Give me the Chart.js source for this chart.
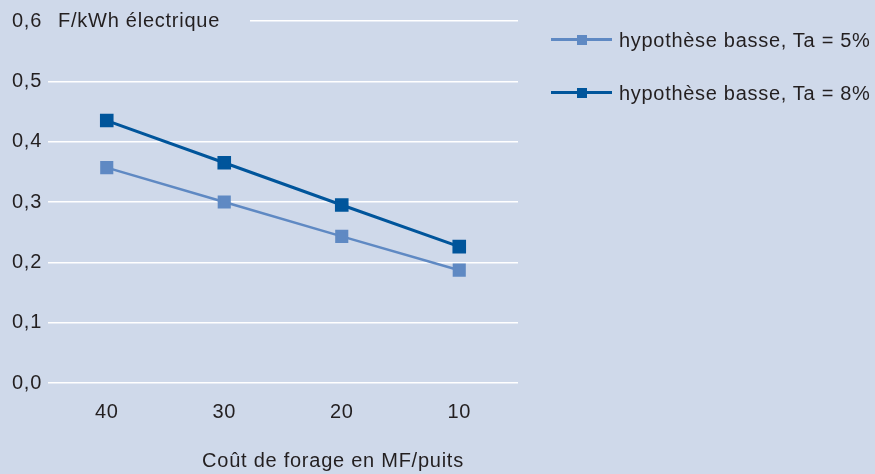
<!DOCTYPE html>
<html lang="fr">
<head>
    <meta charset="UTF-8">
    <title>Coût du kWh électrique</title>
    <script src="https://cdn.jsdelivr.net/npm/chart.js"></script>
    <style>
        html, body { margin: 0; padding: 0; background: #cfd9ea; }
        #wrap { position: relative; width: 875px; height: 474px; }
        #legend { position: absolute; left: 551px; top: 26px; font-family: 'Liberation Sans', Arial, sans-serif; font-size: 20px; letter-spacing: 0.7px; color: #231f20; }
        .item { display: flex; align-items: center; height: 28px; margin-bottom: 25px; white-space: nowrap; }
        .sample { position: relative; width: 61px; height: 28px; margin-right: 7px; }
        .sample .ln { position: absolute; left: 0; right: 0; top: 12px; height: 3px; }
        .sample .sq { position: absolute; left: 26px; top: 9px; width: 10px; height: 10px; }
    </style>
</head>
<body>
<div id="wrap">
    <canvas id="chart" width="875" height="474"></canvas>
    <div id="legend"></div>
</div>
<script>
    // Données
    const categories = ['40', '30', '20', '10'];
    const seriesNames = ['hypothèse basse, Ta = 5%', 'hypothèse basse, Ta = 8%'];
    const ta5 = [0.357, 0.300, 0.243, 0.187];
    const ta8 = [0.435, 0.365, 0.295, 0.226];
    const yTicks = [0, 0.1, 0.2, 0.3, 0.4, 0.5, 0.6];
    const yUnit = 'F/kWh électrique';
    const xTitle = 'Coût de forage en MF/puits';

    const colors = ['#5f89c3', '#00559b'];
    const bg = '#cfd9ea';
    const textColor = '#231f20';
    const font = "'Liberation Sans', Arial, sans-serif";
    const spacing = '0.75px';

    // fond + textes d'axes
    const decor = {
        id: 'decor',
        beforeUpdate(chart) { chart.ctx.letterSpacing = spacing; },
        beforeDraw(chart) {
            const ctx = chart.ctx;
            ctx.letterSpacing = spacing;
            ctx.save();
            ctx.fillStyle = bg;
            ctx.fillRect(0, 0, chart.width, chart.height);
            ctx.restore();
        },
        afterDraw(chart) {
            const ctx = chart.ctx;
            const y = chart.scales.y;
            const top = y.getPixelForValue(0.6);
            ctx.save();
            ctx.fillStyle = bg;
            ctx.fillRect(chart.chartArea.left - 1, top - 3, 251 - chart.chartArea.left, 6);
            ctx.fillStyle = textColor;
            ctx.font = '20px ' + font;
            ctx.textBaseline = 'middle';
            ctx.fillText(yUnit, 58, top);
            ctx.textAlign = 'center';
            ctx.fillText(xTitle, 333, 461);
            ctx.restore();
        }
    };

    const datasets = [ta5, ta8].map((d, i) => ({
        label: seriesNames[i],
        data: d,
        borderColor: colors[i],
        backgroundColor: colors[i],
        borderWidth: i === 0 ? 2.5 : 3,
        pointStyle: 'rect',
        pointRadius: 7.5,
        pointHoverRadius: 7.5,
        tension: 0
    }));

    new Chart(document.getElementById('chart'), {
        type: 'line',
        data: { labels: categories, datasets: datasets },
        options: {
            responsive: false,
            animation: false,
            layout: { padding: { top: 21, right: 357, left: 0, bottom: 0 } },
            plugins: { legend: { display: false }, tooltip: { enabled: false } },
            scales: {
                x: {
                    offset: true,
                    grid: { display: false, drawTicks: false },
                    border: { display: false },
                    ticks: { color: textColor, font: { family: font, size: 20 }, padding: 17 },
                    afterFit(scale) { scale.height = 91; }
                },
                y: {
                    min: 0,
                    max: 0.6,
                    afterBuildTicks(scale) { scale.ticks = yTicks.map(v => ({ value: v })); },
                    grid: { color: '#ffffff', lineWidth: 1.5, drawTicks: false },
                    border: { display: false },
                    ticks: {
                        color: textColor,
                        font: { family: font, size: 20 },
                        padding: 6,
                        callback: v => v.toFixed(1).replace('.', ',')
                    },
                    afterFit(scale) { scale.width = 48; }
                }
            }
        },
        plugins: [decor]
    });

    // légende
    const legend = document.getElementById('legend');
    seriesNames.forEach((name, i) => {
        const item = document.createElement('div');
        item.className = 'item';
        item.innerHTML = '<span class="sample"><span class="ln" style="background:' + colors[i] + '"></span>' +
            '<span class="sq" style="background:' + colors[i] + '"></span></span><span>' + name + '</span>';
        legend.appendChild(item);
    });
</script>
</body>
</html>
